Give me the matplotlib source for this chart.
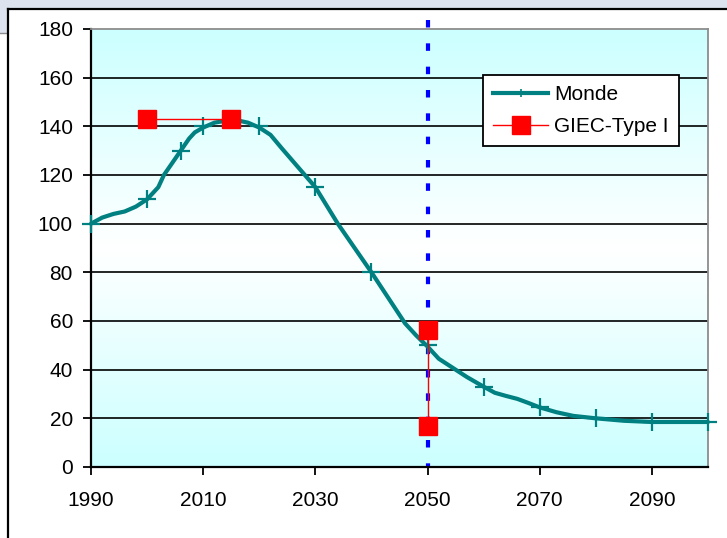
import numpy as np
import matplotlib
matplotlib.use('Agg')
import matplotlib.pyplot as plt
from matplotlib.lines import Line2D
from matplotlib.patches import Rectangle

plt.rcParams['font.family'] = ['Liberation Sans', 'DejaVu Sans']
plt.rcParams['lines.scale_dashes'] = False

# Courbe "Monde" (trait lissé) et points avec marqueurs
annees_courbe = [1990, 1992, 1994, 1996, 1998, 2000, 2002, 2003, 2004.5, 2006, 2007.5,
                 2008.5, 2010, 2012, 2014, 2016, 2018, 2020, 2022, 2024, 2027, 2030,
                 2032, 2034, 2037, 2040, 2043, 2046, 2048, 2050, 2052, 2054, 2057,
                 2060, 2062, 2064, 2066, 2068, 2070, 2073, 2076, 2080, 2085, 2090,
                 2095, 2100]
valeurs_courbe = [100, 102.5, 104, 105, 107, 110, 115, 120, 125, 130, 135,
                  137.5, 139.5, 141.5, 142.3, 142.5, 141.5, 139.5, 136.5, 131, 123, 115,
                  107.5, 100, 90, 80, 69.5, 59, 54, 49.5, 44.5, 41.5, 37,
                  33, 30.5, 29.2, 28, 26.3, 24.5, 22.5, 21, 20, 19, 18.5,
                  18.5, 18.5]
annees_marques = [1990, 2000, 2006, 2010, 2020, 2030, 2040, 2050, 2060, 2070, 2080, 2090, 2100]
valeurs_marques = [100, 110, 130, 140, 140, 115, 80, 50, 33, 24.5, 20, 18.5, 18.5]

# GIEC-Type I : deux segments séparés
annees_giec = [2000, 2015, np.nan, 2050, 2050]
valeurs_giec = [143, 143, np.nan, 56.5, 17]

annee_ref = 2050
xticks = [1990, 2010, 2030, 2050, 2070, 2090]
yticks = list(range(0, 181, 20))

W, H = 727, 538
fig = plt.figure(figsize=(W / 100, H / 100), dpi=100)
fig.patch.set_facecolor('white')


def px(x, y):
    return x / W, 1 - y / H


# cadre de la diapo
fig.add_artist(Rectangle(px(0, 9), 1, 9 / H, transform=fig.transFigure,
                         facecolor='#dce3ee', edgecolor='none'))
fig.add_artist(Rectangle(px(0, 33), 7 / W, 24 / H, transform=fig.transFigure,
                         facecolor='#dce3ee', edgecolor='none'))
fig.add_artist(Line2D([0, 7 / W], [1 - 33 / H] * 2, transform=fig.transFigure,
                      color='#8a8a8a', lw=1))
fig.add_artist(Line2D([7.5 / W, 1], [1 - 9 / H] * 2, transform=fig.transFigure,
                      color='black', lw=1.6))
fig.add_artist(Line2D([7.5 / W] * 2, [0, 1 - 9 / H], transform=fig.transFigure,
                      color='black', lw=1.6))

ax = fig.add_axes([91 / W, 1 - 467 / H, (708 - 91) / W, (467 - 29) / H])

# fond dégradé cyan / blanc / cyan
t = np.linspace(0, 1, 256)
c = np.abs(t - 0.5) * 2
cyan = np.array([0.8, 1.0, 1.0])
blanc = np.array([1.0, 1.0, 1.0])
grad = (blanc[None, :] * (1 - c[:, None]) + cyan[None, :] * c[:, None])[:, None, :]
ax.imshow(grad, extent=[0, 1, 0, 1], transform=ax.transAxes, aspect='auto', zorder=0)

ax.set_xlim(1990, 2100)
ax.set_ylim(0, 180)

for y in yticks[1:-1]:
    ax.axhline(y, color='black', lw=1.2, zorder=1)

# ligne verticale pointillée bleue
ax.plot([annee_ref, annee_ref], [183.7, 0], color='#0000ff', lw=3,
        dashes=(5.4, 11.4), clip_on=False, zorder=2, solid_capstyle='butt')

ax.plot(annees_courbe, valeurs_courbe, color='#008080', lw=3, zorder=3,
        clip_on=False, solid_joinstyle='round', solid_capstyle='round')
ax.plot(annees_marques, valeurs_marques, linestyle='none', marker='+', ms=13,
        mew=1.6, color='#008080', zorder=3, clip_on=False)
ax.plot(annees_giec, valeurs_giec, color='#ff0000', lw=1, marker='s', ms=12.5,
        mec='#ff0000', mfc='#ff0000', zorder=4)

ax.set_xticks(xticks)
ax.set_yticks(yticks)
ax.tick_params(axis='both', labelsize=15, length=6, width=1.3, color='black',
               direction='out')
ax.tick_params(axis='y', pad=7)
ax.tick_params(axis='x', pad=11)

for s in ['left', 'bottom']:
    ax.spines[s].set_color('black')
    ax.spines[s].set_linewidth(1.6)
for s in ['top', 'right']:
    ax.spines[s].set_color('#8c8c8c')
    ax.spines[s].set_linewidth(1.3)

poignees = [
    Line2D([], [], color='#008080', lw=3, marker='+', ms=6, mew=1.2),
    Line2D([], [], color='#ff0000', lw=1, marker='s', ms=12.5),
]
leg = ax.legend(poignees, ['Monde', 'GIEC-Type I'], loc='upper left',
                bbox_to_anchor=((483 - 91) / 617, (467 - 75) / 438),
                borderaxespad=0, fontsize=15, handlelength=2.6,
                handletextpad=0.3, labelspacing=0.6, borderpad=0.5,
                fancybox=False, framealpha=1, edgecolor='black')
leg.get_frame().set_linewidth(1.3)
leg.set_zorder(5)

fig.savefig('out.png', dpi=100)
